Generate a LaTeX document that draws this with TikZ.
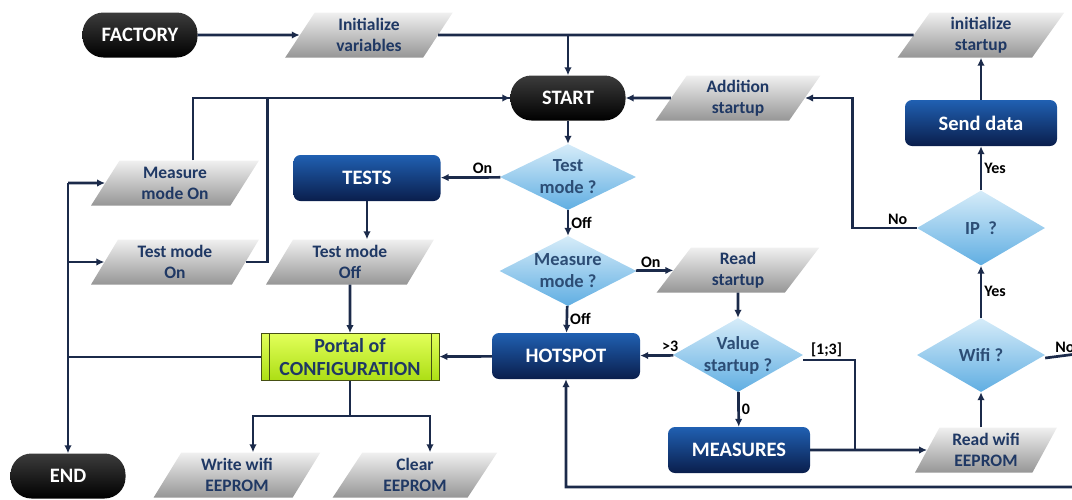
\documentclass[tikz,border=0pt]{standalone}
\usepackage{fontspec}
\setmainfont{Carlito}
\usetikzlibrary{arrows.meta,shapes.geometric,positioning}
\definecolor{lineblue}{RGB}{27,42,74}
\definecolor{textblue}{RGB}{31,56,100}
\definecolor{dectext}{RGB}{44,77,117}
\definecolor{termtop}{RGB}{60,60,60}
\definecolor{proctop}{RGB}{32,96,178}
\definecolor{procbot}{RGB}{10,30,76}
\definecolor{iotop}{RGB}{240,240,240}
\definecolor{iobot}{RGB}{150,150,150}
\definecolor{dectop}{RGB}{214,236,249}
\definecolor{decbot}{RGB}{96,174,226}
\definecolor{portaltop}{RGB}{226,255,90}
\definecolor{portalbot}{RGB}{172,222,20}
\definecolor{portaledge}{RGB}{70,80,20}
\begin{document}
\begin{tikzpicture}[x=1pt,y=-1pt,
  font=\fontsize{17.5}{21}\selectfont\bfseries,
  flow/.style={line width=2.7pt,draw=lineblue,-{Latex[length=8pt,width=7.5pt]}},
  link/.style={line width=2.7pt,draw=lineblue},
  terminal/.style={rounded corners=21pt,minimum width=115pt,minimum height=45pt,
    top color=termtop,bottom color=black,text=white,font=\fontsize{20.5}{24}\selectfont\bfseries},
  process/.style={rounded corners=7pt,minimum width=148pt,minimum height=46pt,
    top color=proctop,bottom color=procbot,text=white,font=\fontsize{20.5}{24}\selectfont\bfseries},
  io/.style={trapezium,trapezium left angle=62,trapezium right angle=118,
    trapezium stretches=true,minimum width=168pt,minimum height=45pt,inner sep=0pt,
    top color=iotop,bottom color=iobot,text=textblue,align=center},
  decision/.style={diamond,aspect=2,inner sep=-6pt,align=center,
    top color=dectop,bottom color=decbot,text=dectext,font=\fontsize{18.5}{22}\selectfont\bfseries},
  portal/.style={minimum width=178pt,minimum height=47pt,align=center,
    top color=portaltop,bottom color=portalbot,draw=portaledge,line width=0.8pt,text=textblue,
    font=\fontsize{20}{23}\selectfont\bfseries,
    path picture={
      \draw[portaledge,line width=0.8pt] ([xshift=8pt]path picture bounding box.north west) -- ([xshift=8pt]path picture bounding box.south west);
      \draw[portaledge,line width=0.8pt] ([xshift=-8pt]path picture bounding box.north east) -- ([xshift=-8pt]path picture bounding box.south east);}},
  lbl/.style={font=\fontsize{16}{18}\selectfont\bfseries,text=black,inner sep=2pt}]
\useasboundingbox (0,0) rectangle (1072,499);
\clip (0,0) rectangle (1072,499);

% top row
\node[terminal] (factory) at (140,35) {FACTORY};
\node[io] (initvar) at (369,35) {Initialize\\variables};
\node[io] (initstart) at (981,35) {initialize\\startup};
\node[terminal] (start) at (568,98) {START};
\node[io,minimum width=165pt] (addstart) at (738,98) {Addition\\startup};

% right column
\node[process,minimum width=152pt] (send) at (981,123) {Send data};
\node[decision,minimum width=128pt,minimum height=75pt] (ip) at (981,228) {IP\ \ ?};
\node[decision,minimum width=128pt,minimum height=74pt] (wifi) at (981,355) {Wifi ?};
\node[io,minimum width=142pt] (readwifi) at (986,450) {Read wifi\\EEPROM};

% middle column
\node[decision,minimum width=136pt,minimum height=66pt] (testq) at (568,177) {Test\\mode ?};
\node[decision,minimum width=137pt,minimum height=70pt] (measq) at (568,271) {Measure\\mode ?};
\node[io,minimum width=163pt] (readstart) at (738,270) {Read\\startup};
\node[process] (hotspot) at (566,356) {HOTSPOT};
\node[decision,minimum width=130pt,minimum height=74pt] (valq) at (738,355) {Value\\startup ?};
\node[process,minimum width=142pt] (measures) at (739,450) {MEASURES};

% left part
\node[process,minimum width=147pt] (tests) at (367,178) {TESTS};
\node[io] (tmoff) at (350,262) {Test mode\\Off};
\node[portal] (portal) at (350,357) {Portal of\\CONFIGURATION};
\node[io] (mmon) at (175,183) {Measure\\mode On};
\node[io] (tmon) at (175,262) {Test mode\\On};
\node[io,minimum width=167pt] (wwifi) at (237,475) {Write wifi\\EEPROM};
\node[io,minimum width=165pt] (clear) at (415,475) {Clear\\EEPROM};
\node[terminal] (end) at (68,476) {END};

\coordinate (spinetop) at (68,183);
\coordinate (merge) at (855,450);
\coordinate (rimtop) at (1092,352);
\coordinate (rimbot) at (1092,487);

% connectors
\draw[flow] (factory) -- (initvar);
\draw[link] (initvar.east) -- (initstart.west);
\draw[flow] (initvar.east -| start.north) -- (start.north);
\draw[flow] (addstart.west) -- (start.east);
\draw[flow] (send) -- (initstart);
\draw[flow] (ip) -- node[lbl,right]{Yes} (send);
\draw[flow] (ip.west) -- node[lbl,above,pos=0.3]{No} ++(-64,0) |- (addstart.east);
\draw[flow] (wifi) -- node[lbl,right]{Yes} (ip);
\draw[flow] (readwifi.north -| wifi.south) -- (wifi.south);
\draw[flow] ([yshift=-3pt]wifi.east) -- node[lbl,above,pos=0.42]{No} (rimtop) -- (rimbot) -| (hotspot.south);
\draw[flow] (start) -- (testq);
\draw[flow] (testq) -- node[lbl,above,pos=0.3]{On} (tests);
\draw[flow] (testq) -- node[lbl,right]{Off} (measq);
\draw[flow] (measq) -- node[lbl,above,pos=0.4]{On} (readstart);
\draw[flow] (measq) -- node[lbl,right]{Off} (hotspot);
\draw[flow] (readstart) -- (valq);
\draw[flow] (valq) -- node[lbl,above,pos=0.1]{>3} (hotspot);
\draw[flow] (valq) -- node[lbl,right]{0} (measures);
\draw[link] ([yshift=-5pt]valq.east) -- node[lbl,above,pos=0.45]{[1;3]} ([yshift=-5pt]valq.east -| merge) -- (merge);
\draw[flow] (measures) -- (readwifi);
\draw[flow] (tests.south) -- (tests.south |- tmoff.north);
\draw[flow] (tmoff) -- (portal);
\draw[flow] (hotspot) -- (portal);
\draw[link] (portal.west) -- (portal.west -| spinetop);
\draw[flow] (spinetop) -- (end);
\draw[flow] (spinetop) -- (mmon);
\draw[flow] (tmon.west -| spinetop) -- (tmon.west);
\draw[flow] ([xshift=18pt]mmon.north) |- (start.west);
\draw[link] (tmon.east) -- ++(22,0) |- (start.west);
\draw[flow] (portal.south) -- ++(0,35) -| ([xshift=16pt]wwifi.north);
\draw[flow] (portal.south) -- ++(0,35) -| ([xshift=15pt]clear.north);
\end{tikzpicture}
\end{document}
